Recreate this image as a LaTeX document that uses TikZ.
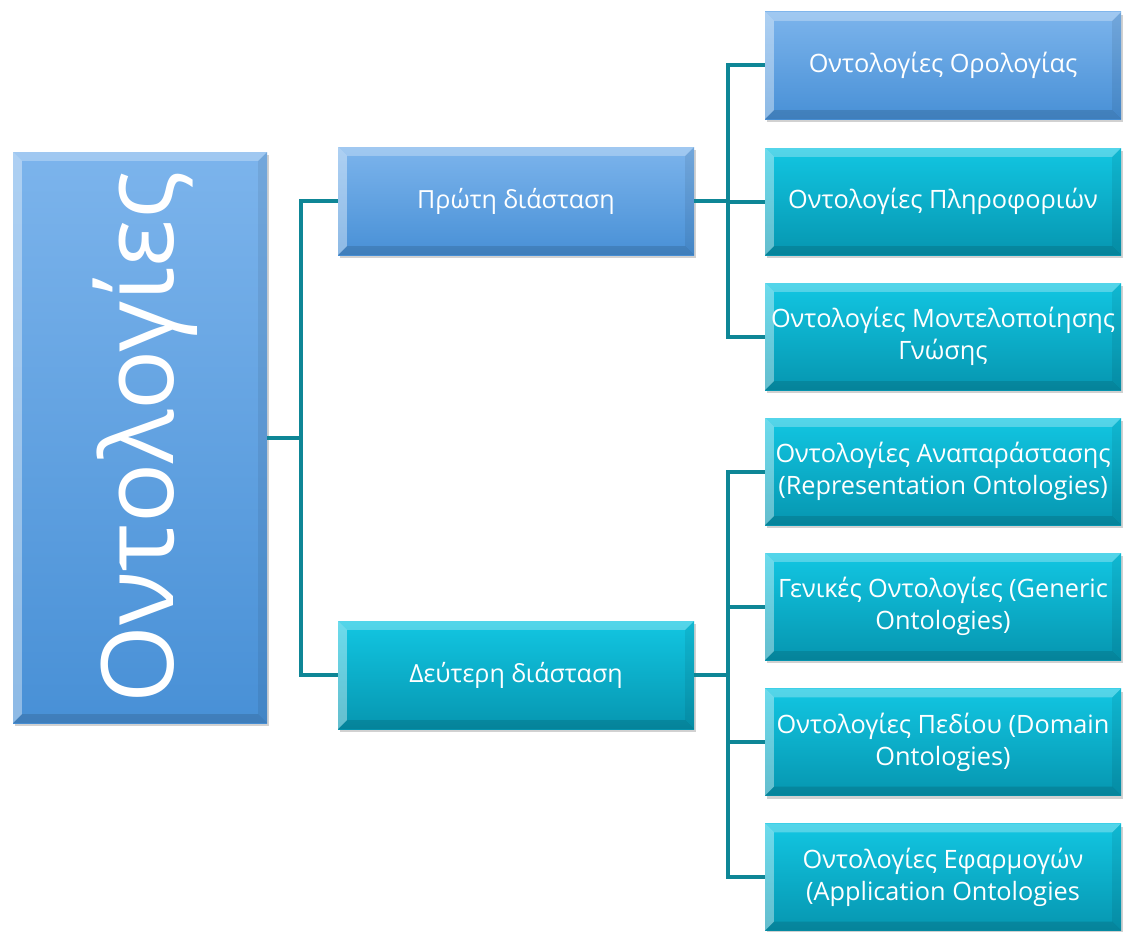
\documentclass[tikz,border=0pt]{standalone}
\usepackage{fontspec}
\setmainfont{Open Sans}
\usetikzlibrary{shadows}
\definecolor{conncol}{RGB}{14,134,150}
\definecolor{bluetop}{RGB}{124,180,236}
\definecolor{bluebot}{RGB}{72,144,214}
\definecolor{tealtop}{RGB}{18,198,226}
\definecolor{tealbot}{RGB}{6,150,176}
\tikzset{
  boxbase/.style={rectangle, inner sep=0pt, align=center, text=white,
    drop shadow={shadow xshift=2pt, shadow yshift=-3pt, opacity=0.3, fill=black!60}},
  bluebox/.style={boxbase, top color=bluetop, bottom color=bluebot},
  tealbox/.style={boxbase, top color=tealtop, bottom color=tealbot},
  midbox/.style={minimum width=356pt, minimum height=108pt},
  leafbox/.style={minimum width=356pt, minimum height=107pt},
  mt/.style={text=white, align=center, font=\fontsize{25}{31}\selectfont},
  lt/.style={text=white, align=center, font=\fontsize{25.3}{32}\selectfont},
  conn/.style={draw=conncol, line width=4pt, line join=miter},
}
\newcommand\bevel[1]{%
  \fill[white,opacity=0.28] (#1.north west) -- (#1.north east) -- ([shift={(-9,9)}]#1.north east) -- ([shift={(9,9)}]#1.north west) -- cycle;
  \fill[white,opacity=0.38] (#1.north west) -- ([shift={(9,9)}]#1.north west) -- ([shift={(9,-9)}]#1.south west) -- (#1.south west) -- cycle;
  \fill[black,opacity=0.12] (#1.south west) -- ([shift={(9,-9)}]#1.south west) -- ([shift={(-9,-9)}]#1.south east) -- (#1.south east) -- cycle;
  \fill[black,opacity=0.07] (#1.north east) -- (#1.south east) -- ([shift={(-9,-9)}]#1.south east) -- ([shift={(-9,9)}]#1.north east) -- cycle;
}
\begin{document}
\begin{tikzpicture}[x=1pt,y=-1pt]
\useasboundingbox (0,0) rectangle (1123,931);
% root
\node[bluebox, minimum width=254pt, minimum height=571pt] (root) at (140,437.5) {};
\bevel{root}
\node[text=white, rotate=90, font=\fontsize{100}{110}\selectfont] (roottext) at (145,437.5) {Οντολογίες};
% mid level
\node[bluebox, midbox] (p1) at (516,201) {};
\bevel{p1}
\node[mt] (p1t) at (p1) {Πρώτη διάσταση};
\node[tealbox, midbox] (p2) at (516,675) {};
\bevel{p2}
\node[mt] (p2t) at (p2) {Δεύτερη διάσταση};
% leaves
\node[bluebox, leafbox] (a1) at (943,65.5) {};
\bevel{a1}
\node[tealbox, leafbox] (a2) at (943,201.5) {};
\bevel{a2}
\node[tealbox, leafbox] (a3) at (943,336.5) {};
\bevel{a3}
\node[tealbox, leafbox] (b1) at (943,471.5) {};
\bevel{b1}
\node[tealbox, leafbox] (b2) at (943,606.5) {};
\bevel{b2}
\node[tealbox, leafbox] (b3) at (943,742) {};
\bevel{b3}
\node[tealbox, leafbox] (b4) at (943,877) {};
\bevel{b4}
\node[lt] (a1t) at (a1) {Οντολογίες Ορολογίας};
\node[lt] (a2t) at (a2) {Οντολογίες Πληροφοριών};
\node[lt] (a3t) at (a3) {Οντολογίες Μοντελοποίησης\\Γνώσης};
\node[lt] (b1t) at (b1) {Οντολογίες Αναπαράστασης\\(Representation Ontologies)};
\node[lt] (b2t) at (b2) {Γενικές Οντολογίες (Generic\\Ontologies)};
\node[lt] (b3t) at (b3) {Οντολογίες Πεδίου (Domain\\Ontologies)};
\node[lt] (b4t) at (b4) {Οντολογίες Εφαρμογών\\(Application Ontologies};
% connectors
\coordinate (j0) at (301,437.5);
\coordinate (j1) at (728,201);
\coordinate (j2) at (728,675);
\draw[conn] (root.east) -- (j0);
\draw[conn] (j0) |- (p1.west);
\draw[conn] (j0) |- (p2.west);
\draw[conn] (p1.east) -- (j1);
\draw[conn] (j1) |- (a1.west);
\draw[conn] (j1) |- (a2.west);
\draw[conn] (j1) |- (a3.west);
\draw[conn] (p2.east) -- (j2);
\draw[conn] (j2) |- (b1.west);
\draw[conn] (j2) |- (b2.west);
\draw[conn] (j2) |- (b3.west);
\draw[conn] (j2) |- (b4.west);
\end{tikzpicture}
\end{document}
